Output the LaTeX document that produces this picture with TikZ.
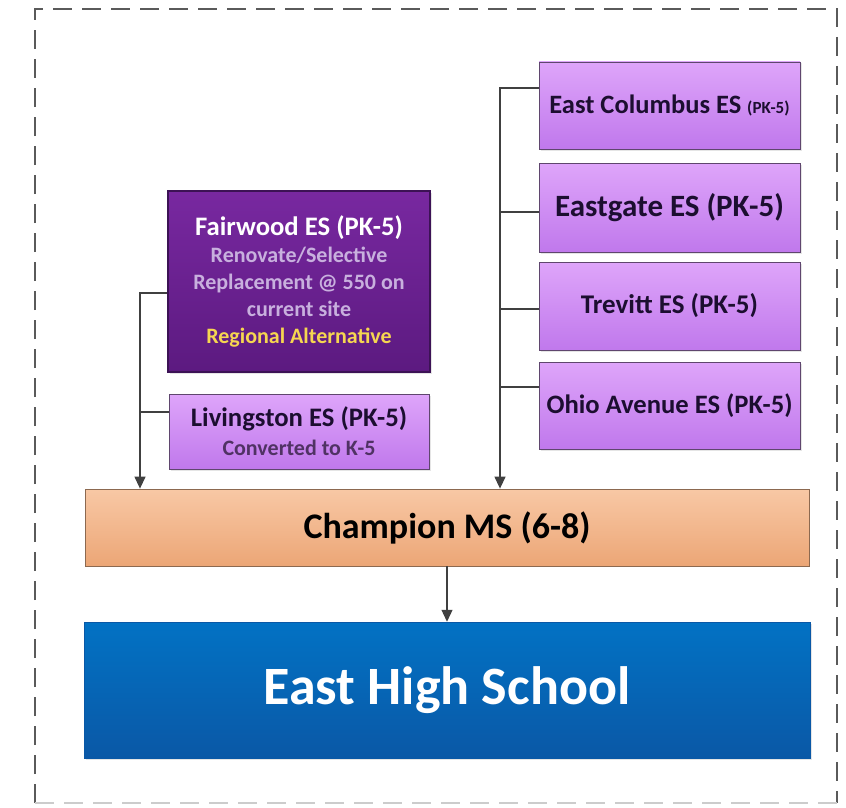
\documentclass[tikz,border=0pt]{standalone}
\usepackage{fontspec}
\setmainfont{Carlito}
\usetikzlibrary{arrows.meta,shadows}
\definecolor{lpTop}{RGB}{222,165,250}
\definecolor{lpBot}{RGB}{192,120,236}
\definecolor{lpEdge}{RGB}{95,70,110}
\definecolor{dpTop}{RGB}{120,40,160}
\definecolor{dpBot}{RGB}{92,26,128}
\definecolor{dpEdge}{RGB}{60,18,85}
\definecolor{orTop}{RGB}{248,200,165}
\definecolor{orBot}{RGB}{236,166,118}
\definecolor{orEdge}{RGB}{140,105,80}
\definecolor{blTop}{RGB}{2,114,196}
\definecolor{blBot}{RGB}{10,88,166}
\definecolor{darktext}{RGB}{28,14,48}
\definecolor{subtext}{RGB}{200,176,222}
\definecolor{yel}{RGB}{246,214,80}
\definecolor{convtext}{RGB}{80,50,100}
\definecolor{connc}{RGB}{64,64,64}
\definecolor{frame}{RGB}{90,90,90}
\tikzset{
  lightbox/.style={draw=lpEdge, line width=0.8pt, top color=lpTop, bottom color=lpBot, text=darktext, align=center, inner sep=0pt, drop shadow={opacity=0.2,shadow xshift=1.5pt,shadow yshift=-1.5pt}},
  darkbox/.style={draw=dpEdge, line width=2.5pt, top color=dpTop, bottom color=dpBot, align=center, inner sep=0pt, drop shadow={opacity=0.2,shadow xshift=1.5pt,shadow yshift=-1.5pt}},
  orangebox/.style={draw=orEdge, line width=0.8pt, top color=orTop, bottom color=orBot, align=center, inner sep=0pt, text=black, drop shadow={opacity=0.15,shadow xshift=1pt,shadow yshift=-1pt}},
  bluebox/.style={draw=blBot, line width=0.5pt, top color=blTop, bottom color=blBot, align=center, inner sep=0pt, text=white, drop shadow={opacity=0.2,shadow xshift=1.5pt,shadow yshift=-1.5pt}},
  conn/.style={draw=connc, line width=1.3pt},
  arr/.style={conn, -{Triangle[width=11pt,length=12pt]}},
  framedash/.style={draw=frame, line width=1.8pt, dash pattern=on 19pt off 10pt},
}
\begin{document}
\begin{tikzpicture}[x=1pt,y=-1pt]
\useasboundingbox (0,0) rectangle (846,808);
\fill[white] (0,0) rectangle (846,808);
% frame
\draw[framedash] (35,803) -- (35,9) -- (837,9) -- (837,803);
\draw[draw=black!20, line width=1.5pt, dash pattern=on 19pt off 10pt] (35,803) -- (837,803);

% nodes
\node[darkbox, minimum width=262pt, minimum height=181pt, font=\fontsize{22}{27}\selectfont\bfseries, text=subtext] (fair) at (299,281.5)
  {{\fontsize{26.7}{27}\selectfont\color{white}Fairwood ES (PK-5)}\\
   Renovate/Selective\\
   Replacement @ 550 on\\
   current site\\
   \textcolor{yel}{Regional Alternative}};
\node[lightbox, minimum width=260pt, minimum height=75pt, font=\fontsize{22}{29}\selectfont\bfseries] (liv) at (299,431.5)
  {{\fontsize{26.7}{29}\selectfont Livingston ES (PK-5)}\\
   \textcolor{convtext}{Converted to K-5}};
\node[lightbox, minimum width=261pt, minimum height=87pt, font=\fontsize{26.5}{30}\selectfont\bfseries] (ec) at (669.5,105.5)
  {East Columbus ES {\fontsize{17}{20}\selectfont (PK-5)}};
\node[lightbox, minimum width=261pt, minimum height=89pt, font=\fontsize{31}{36}\selectfont\bfseries] (eg) at (669.5,207.5)
  {Eastgate ES (PK-5)};
\node[lightbox, minimum width=261pt, minimum height=88pt, font=\fontsize{27}{32}\selectfont\bfseries] (tr) at (669.5,306)
  {Trevitt ES (PK-5)};
\node[lightbox, minimum width=261pt, minimum height=87pt, font=\fontsize{26.6}{32}\selectfont\bfseries] (oh) at (669.5,405.5)
  {Ohio Avenue ES (PK-5)};
\node[orangebox, minimum width=724pt, minimum height=77pt, font=\fontsize{36}{42}\selectfont\bfseries] (champ) at (447,527.5)
  {Champion MS (6-8)};
\node[bluebox, minimum width=726pt, minimum height=136pt, font=\fontsize{54}{62}\selectfont\bfseries] (ehs) at (447,690)
  {East High School};

% connectors
\coordinate (lj) at (140,293);
\coordinate (lk) at (140,412);
\coordinate (rj) at (500,88);
\coordinate (rk) at (500,212);
\coordinate (rl) at (500,309);
\coordinate (rm) at (500,387);
\draw[arr] (fair.west |- lj) -- (lj) -- (lj |- champ.north);
\draw[conn] (liv.west |- lk) -- (lk);
\draw[arr] (ec.west |- rj) -- (rj) -- (rj |- champ.north);
\draw[conn] (eg.west |- rk) -- (rk);
\draw[conn] (tr.west |- rl) -- (rl);
\draw[conn] (oh.west |- rm) -- (rm);
\draw[arr] (champ.south) -- (ehs.north);
\end{tikzpicture}
\end{document}
